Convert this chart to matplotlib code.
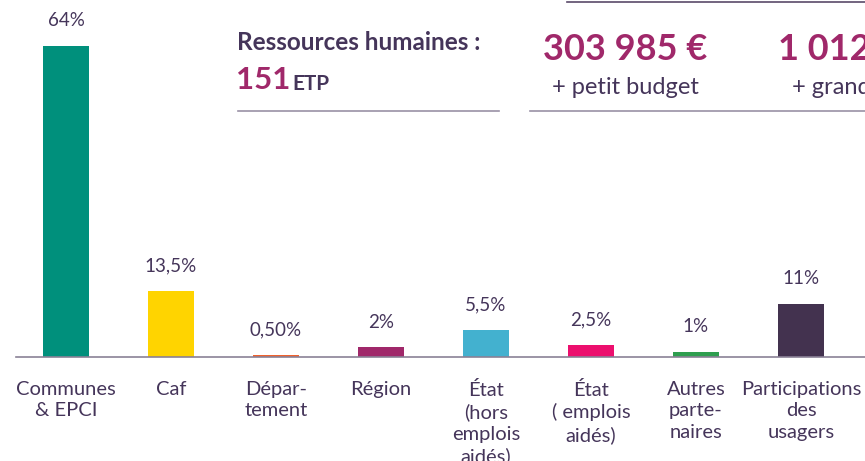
import matplotlib.pyplot as plt

categories = ['Communes\n& EPCI', 'Caf', 'Dépar-\ntement', 'Région',
              'État\n(hors\nemplois\naidés)', 'État\n( emplois\naidés)',
              'Autres\nparte-\nnaires', 'Participations\ndes\nusagers']
shares = [64, 13.5, 0.5, 2, 5.5, 2.5, 1, 11]
share_labels = ['64%', '13,5%', '0,50%', '2%', '5,5%', '2,5%', '1%', '11%']
colors = ['#00907c', '#ffd400', '#f0622d', '#a0286a',
          '#43b1cf', '#ec0f6e', '#2e9e4f', '#43324f']

dark = '#45355a'
magenta = '#a0286a'
plt.rcParams['font.family'] = ['Lato', 'DejaVu Sans']

W, H = 865, 461
fig = plt.figure(figsize=(W / 100, H / 100), dpi=100)
ax = fig.add_axes([16 / W, (H - 357) / H, 1 - 16 / W, 311 / H])

x = range(len(categories))
ax.bar(x, shares, width=0.44, color=colors)
ax.set_xlim(-0.476, 7.61)
ax.set_ylim(0, 64)

for i, (v, lab) in enumerate(zip(shares, share_labels)):
    ax.annotate(lab, (i, v), xytext=(0, 12), textcoords='offset points',
                ha='center', va='bottom', fontsize=13.5, color=dark)

ax.set_xticks(list(x))
ax.set_xticklabels(categories, fontsize=14.5, color=dark, linespacing=1.32)
ax.tick_params(axis='x', length=0, pad=17)
ax.set_yticks([])
for s in ['top', 'left', 'right']:
    ax.spines[s].set_visible(False)
ax.spines['bottom'].set_color('#8a8196')
ax.spines['bottom'].set_linewidth(1.2)


def fy(py):
    return 1 - py / H


# Header blocks
fig.text(237 / W, fy(42), 'Ressources humaines :', fontsize=17.5, fontweight='bold',
         color=dark, va='center')
fig.text(236 / W, fy(80), '151', fontsize=22.5, fontweight='bold',
         color=magenta, va='center')
fig.text(292 / W, fy(84), 'ETP', fontsize=15, fontweight='bold',
         color=dark, va='center')
fig.text(625 / W, fy(50), '303 985 €', fontsize=26, fontweight='bold',
         color=magenta, va='center', ha='center')
fig.text(625 / W, fy(87), '+ petit budget', fontsize=17,
         color=dark, va='center', ha='center')
fig.text(778 / W, fy(50), '1 012 758 €', fontsize=26, fontweight='bold',
         color=magenta, va='center')
fig.text(792 / W, fy(87), '+ grand budget', fontsize=17,
         color=dark, va='center')

line_col = '#9a91a6'
fig.add_artist(plt.Line2D([238 / W, 499 / W], [fy(111), fy(111)], color=line_col, lw=1.2))
fig.add_artist(plt.Line2D([530 / W, 1], [fy(111), fy(111)], color=line_col, lw=1.2))
fig.add_artist(plt.Line2D([567 / W, 1], [fy(2), fy(2)], color='#5a4a6a', lw=1.2))

fig.savefig('out.png', dpi=100)
